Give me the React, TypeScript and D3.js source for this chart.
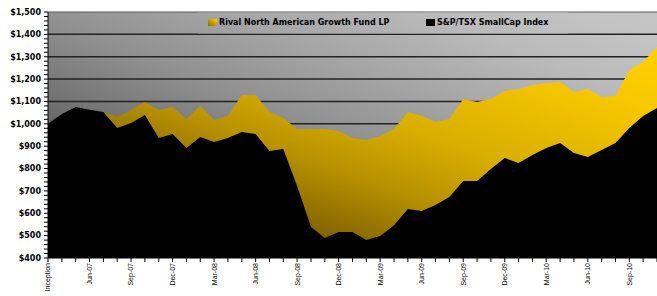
import React from "react";
import * as d3 from "d3";

const categories = [
  "Inception", "Apr-07", "May-07", "Jun-07", "Jul-07", "Aug-07", "Sep-07", "Oct-07", "Nov-07", "Dec-07",
  "Jan-08", "Feb-08", "Mar-08", "Apr-08", "May-08", "Jun-08", "Jul-08", "Aug-08", "Sep-08", "Oct-08",
  "Nov-08", "Dec-08", "Jan-09", "Feb-09", "Mar-09", "Apr-09", "May-09", "Jun-09", "Jul-09", "Aug-09",
  "Sep-09", "Oct-09", "Nov-09", "Dec-09", "Jan-10", "Feb-10", "Mar-10", "Apr-10", "May-10", "Jun-10",
  "Jul-10", "Aug-10", "Sep-10", "Oct-10", "Nov-10",
];

const fundValues = [
  1000, 1025, 1045, 1050, 1053, 1031, 1062, 1098, 1062, 1075,
  1021, 1080, 1017, 1035, 1129, 1129, 1053, 1026, 977, 977,
  977, 968, 937, 928, 945, 977, 1053, 1035, 1008, 1021,
  1111, 1098, 1111, 1147, 1156, 1174, 1183, 1187, 1142, 1156,
  1120, 1124, 1241, 1276, 1343,
];

const indexValues = [
  1000, 1044, 1075, 1063, 1053, 981, 1004, 1039, 937, 954,
  892, 941, 919, 937, 963, 954, 878, 887, 722, 539,
  489, 516, 516, 480, 498, 547, 619, 610, 637, 673,
  744, 744, 798, 847, 825, 861, 892, 914, 869, 852,
  883, 914, 981, 1035, 1071,
];

const yTicks = [400, 500, 600, 700, 800, 900, 1000, 1100, 1200, 1300, 1400, 1500];
const seriesNames = ["Rival North American Growth Fund LP", "S&P/TSX SmallCap Index"];

const W = 657;
const H = 296;
const L = 48;
const R = 657;
const T = 12;
const B = 258;

export default function App() {
  const x = d3.scaleLinear().domain([0, categories.length - 1]).range([L, R]);
  const y = d3.scaleLinear().domain([400, 1500]).range([B, T]);

  const area = d3
    .area<number>()
    .x((_, i) => x(i))
    .y0(y(400))
    .y1((d) => y(d));

  const minorTicks = d3.range(400, 1501, 20);
  const fmt = (v: number) => "$" + d3.format(",")(v);

  return (
    <svg
      width={W}
      height={H}
      style={{ position: "absolute", left: 0, top: 0 }}
      fontFamily="'DejaVu Sans', Verdana, sans-serif"
    >
      <defs>
        <linearGradient id="bg" gradientUnits="userSpaceOnUse" x1={L} y1={B} x2={L + 200} y2={B - 500}>
          <stop offset="0" stopColor="#3a3a3a" />
          <stop offset="0.24" stopColor="#6a6a6a" />
          <stop offset="0.41" stopColor="#909090" />
          <stop offset="0.55" stopColor="#a6a6a6" />
          <stop offset="0.69" stopColor="#bbbbbb" />
          <stop offset="0.8" stopColor="#c4c4c4" />
          <stop offset="1" stopColor="#cacaca" />
        </linearGradient>
        <linearGradient id="gold" x1="0" y1="1" x2="1" y2="0">
          <stop offset="0" stopColor="#4a3800" />
          <stop offset="0.25" stopColor="#7a5c00" />
          <stop offset="0.45" stopColor="#b89200" />
          <stop offset="0.6" stopColor="#d8ae00" />
          <stop offset="0.85" stopColor="#f8c800" />
          <stop offset="1" stopColor="#ffd000" />
        </linearGradient>
        <linearGradient id="swatch" x1="0" y1="1" x2="1" y2="0">
          <stop offset="0" stopColor="#8a6a00" />
          <stop offset="1" stopColor="#ffd000" />
        </linearGradient>
      </defs>

      <rect x={L} y={T} width={R - L} height={B - T} fill="url(#bg)" />

      {yTicks.slice(1).map((t) => (
        <line
          key={"g" + t}
          x1={L}
          x2={R}
          y1={y(t)}
          y2={y(t)}
          stroke={t === 1500 ? "#5a5a5a" : "#222"}
          strokeWidth={t === 1500 ? 1 : 1.5}
        />
      ))}

      <path d={area(fundValues) || ""} fill="url(#gold)" />
      <path d={area(indexValues) || ""} fill="#000" />

      {/* Y axis */}
      <line x1={L} x2={L} y1={T} y2={B} stroke="#000" strokeWidth={1} />
      {minorTicks.map((t) => (
        <line key={"m" + t} x1={L - 4} x2={L} y1={y(t)} y2={y(t)} stroke="#000" strokeWidth={1} />
      ))}
      {yTicks.map((t) => (
        <text
          key={"yl" + t}
          x={41}
          y={y(t)}
          dy="0.35em"
          textAnchor="end"
          fontSize={8}
          fontWeight="bold"
          fill="#000"
        >
          {fmt(t)}
        </text>
      ))}

      {/* X axis */}
      <line x1={L} x2={R} y1={B} y2={B} stroke="#000" strokeWidth={1} />
      {categories.map((c, i) => (
        <line key={"xt" + i} x1={x(i)} x2={x(i)} y1={B} y2={B + 4} stroke="#000" strokeWidth={1} />
      ))}
      {categories.map((c, i) =>
        i % 3 === 0 ? (
          <text
            key={"xl" + i}
            transform={`translate(${x(i)},${B + 5}) rotate(-90)`}
            dy="0.35em"
            textAnchor="end"
            fontSize={7}
            fontFamily="'Liberation Sans', Arial, sans-serif"
            fill="#000"
          >
            {c}
          </text>
        ) : null
      )}

      {/* Legend */}
      <rect x={198} y={T + 0.5} width={370} height={21} fill="url(#bg)" />
      <rect x={208} y={19} width={9} height={7} fill="url(#swatch)" />
      <text x={219} y={22.5} dy="0.35em" fontSize={8} fontWeight="bold" fill="#000">
        {seriesNames[0]}
      </text>
      <rect x={426} y={19} width={9} height={7} fill="#000" />
      <text x={437} y={22.5} dy="0.35em" fontSize={8} fontWeight="bold" fill="#000">
        {seriesNames[1]}
      </text>
    </svg>
  );
}
